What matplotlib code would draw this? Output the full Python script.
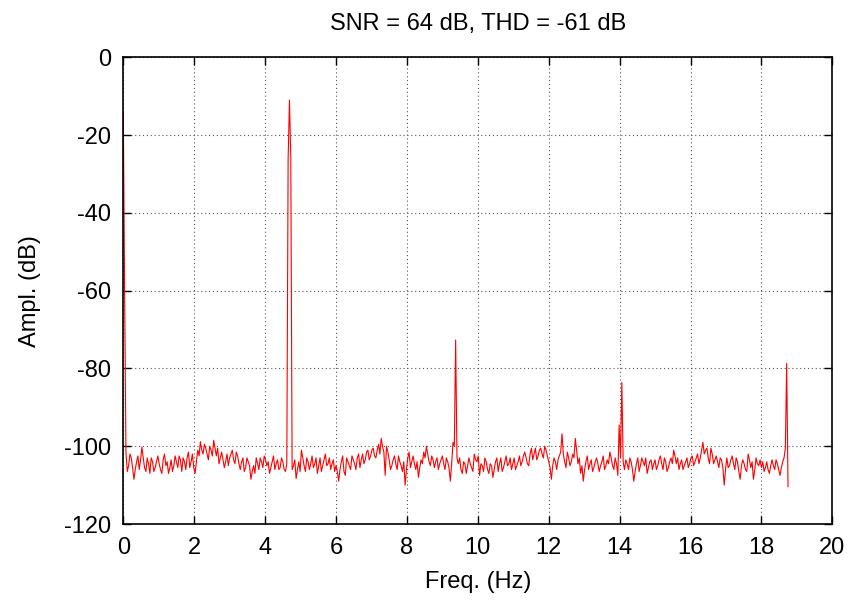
#!/usr/bin/env python3

import numpy as np
import matplotlib
matplotlib.use('Agg')
import matplotlib.pyplot as plt

########################################

# Spectrum, bin width 0.0375 Hz (0 .. 18.75 Hz)
# even bins: 0, 0.075, 0.15, ...   odd bins: 0.0375, 0.1125, ...

bin_hz = 0.0375
even_db = [
    -101.0, -101.5, -105.0, -103.0, -108.5, -104.0, -106.0, -100.2, -105.5, -103.0,
    -107.0, -104.0, -105.5, -102.5, -106.0, -103.5, -105.0, -107.0, -103.5, -105.0,
    -104.0, -102.5, -106.5, -104.0, -103.0, -105.5, -102.0, -107.0, -101.0, -98.8,
    -102.0, -100.5, -103.5, -101.0, -98.5, -102.5, -104.5, -101.5, -105.5, -102.0,
    -103.0, -101.0, -104.5, -102.5, -106.0, -103.0, -105.5, -104.0, -108.5, -105.0,
    -103.0, -106.0, -104.0, -102.5, -105.0, -107.0, -104.0, -106.0, -103.5, -105.5,
    -104.0, -106.5, -104.0, -104.0, -105.0, -108.3, -104.0, -101.0, -105.0, -103.0,
    -106.0, -102.5, -104.5, -107.0, -103.0, -105.0, -102.0, -104.5, -106.0, -103.5,
    -105.0, -109.0, -104.0, -106.5, -103.0, -105.0, -102.5, -104.5, -103.0, -105.5,
    -102.0, -103.5, -101.0, -102.5, -100.5, -103.0, -99.5, -98.0, -101.5, -100.0,
    -103.5, -105.0, -102.5, -106.0, -104.0, -106.5, -110.0, -103.0, -105.5, -102.5,
    -106.0, -108.0, -103.5, -101.5, -100.0, -104.0, -102.5, -105.5, -103.0, -104.5,
    -102.5, -106.0, -104.0, -109.0, -99.0, -104.0, -104.5, -106.0, -104.0, -107.0,
    -103.0, -105.5, -102.0, -104.0, -107.5, -105.0, -103.0, -106.0, -104.5, -108.0,
    -104.0, -106.5, -103.0, -105.5, -102.5, -104.5, -106.0, -103.0, -105.0, -102.5,
    -104.0, -101.5, -104.5, -102.0, -103.5, -100.5, -102.5, -100.5, -103.0, -101.0,
    -104.0, -108.5, -103.0, -106.0, -102.5, -96.8, -104.0, -101.5, -105.0, -102.0,
    -98.0, -104.5, -107.0, -109.0, -104.0, -106.0, -103.5, -105.5, -103.0, -106.5,
    -104.0, -106.0, -103.5, -101.5, -105.0, -103.0, -107.5, -103.0, -104.0, -103.5,
    -106.0, -104.0, -109.0, -104.5, -106.5, -103.0, -105.0, -107.0, -104.0, -106.0,
    -103.5, -105.0, -102.5, -106.0, -104.0, -105.5, -103.0, -101.0, -104.5, -106.0,
    -103.5, -105.0, -103.0, -104.5, -102.5, -104.0, -102.0, -103.0, -99.0, -101.0,
    -103.0, -100.5, -104.5, -102.5, -105.5, -103.5, -110.0, -103.0, -105.0, -102.5,
    -106.0, -104.0, -108.5, -103.5, -106.0, -102.0, -105.5, -108.5, -103.0, -105.0,
    -105.5, -106.5, -104.0, -107.0, -103.5, -106.0, -104.5, -107.5, -104.0, -100.5,
    -110.4,
]
odd_db = [
    -45.0, -106.5, -102.0, -105.5, -106.0, -102.5, -103.5, -103.0, -106.5, -104.5,
    -103.0, -106.5, -104.0, -104.5, -107.0, -102.0, -104.0, -105.5, -106.5, -102.5,
    -105.5, -103.5, -103.0, -106.0, -101.5, -104.0, -105.5, -104.0, -102.5, -101.0,
    -99.5, -102.0, -100.0, -102.5, -100.5, -100.5, -103.0, -103.5, -104.0, -105.0,
    -102.0, -103.5, -101.5, -104.5, -104.0, -106.5, -103.0, -105.0, -106.5, -107.0,
    -104.5, -103.0, -105.5, -103.5, -104.0, -105.5, -102.5, -104.5, -106.0, -103.0,
    -106.0, -104.5, -11.0, -106.0, -103.5, -106.0, -106.5, -103.0, -106.5, -104.0,
    -104.5, -105.5, -103.0, -105.0, -106.5, -103.5, -105.0, -103.0, -104.5, -106.5,
    -106.5, -106.0, -102.5, -107.5, -104.0, -106.0, -103.5, -106.0, -102.0, -103.5,
    -104.5, -101.5, -103.5, -101.0, -102.5, -101.0, -102.0, -100.0, -107.5, -101.5,
    -106.0, -103.5, -104.5, -102.5, -105.0, -104.0, -106.0, -101.5, -104.0, -104.5,
    -104.0, -105.5, -104.5, -103.0, -102.0, -105.0, -103.5, -104.0, -106.0, -103.5,
    -104.5, -103.0, -105.5, -104.5, -100.0, -103.0, -103.0, -107.0, -104.5, -105.0,
    -104.5, -106.5, -103.5, -102.5, -104.5, -106.5, -104.0, -107.0, -105.0, -106.0,
    -103.0, -104.5, -106.5, -104.0, -105.0, -103.0, -104.5, -106.0, -104.0, -105.0,
    -102.5, -103.0, -105.0, -100.5, -102.0, -103.5, -101.0, -102.0, -100.0, -102.5,
    -105.5, -105.0, -104.0, -103.5, -101.5, -102.0, -105.5, -103.0, -104.0, -103.0,
    -101.0, -103.0, -105.0, -106.0, -102.5, -104.5, -106.5, -104.0, -104.5, -105.0,
    -102.5, -105.0, -104.5, -103.0, -106.0, -104.5, -94.5, -83.6, -106.0, -104.5,
    -103.0, -106.0, -106.5, -103.0, -105.0, -104.0, -103.0, -105.5, -103.5, -104.5,
    -106.0, -103.5, -104.5, -103.0, -106.5, -104.0, -104.5, -102.5, -103.0, -104.5,
    -106.0, -104.0, -105.5, -103.0, -105.0, -103.0, -104.5, -101.0, -102.0, -100.5,
    -104.5, -102.0, -103.5, -104.0, -103.0, -105.5, -106.0, -105.5, -103.5, -104.5,
    -103.0, -106.5, -105.0, -104.5, -106.5, -103.5, -104.0, -106.0, -104.5, -103.5,
    -104.0, -105.5, -106.0, -105.0, -105.0, -103.5, -106.0, -105.5, -103.0, -78.7,
]

# DC, the tone at 4.69 Hz and its harmonics (these bins replace the floor)
peak_hz = [0.0, 0.0375,
           4.6125, 4.65, 4.6875, 4.725, 4.7625,
           9.3375, 9.375, 9.4125,
           13.9875, 14.025, 14.0625, 14.1,
           18.7125]
peak_db = [-14.2, -60.0,
           -104.5, -26.0, -11.0, -26.0, -106.0,
           -100.0, -72.7, -103.0,
           -94.5, -103.0, -83.6, -104.0,
           -78.7]

title = 'SNR = 64 dB, THD = -61 dB'

########################################

ampl = np.empty(len(even_db) + len(odd_db))
ampl[0::2] = even_db
ampl[1::2] = odd_db
for f, v in zip(peak_hz, peak_db):
    ampl[int(round(f / bin_hz))] = v
freq = np.arange(len(ampl)) * bin_hz

########################################

plt.rcParams['font.family'] = ['Liberation Sans', 'DejaVu Sans']
plt.rcParams['font.size'] = 17
plt.rcParams['axes.unicode_minus'] = False

fig = plt.figure(figsize=(8.52, 6.03), dpi=100)
ax = fig.add_axes([0.1447, 0.131, 0.8322, 0.774])

ax.plot(freq, ampl, color='#ff0000', linewidth=0.8)

ax.set_xlim(0, 20)
ax.set_ylim(-120, 0)
ax.set_xticks(np.arange(0, 21, 2))
ax.set_yticks(np.arange(-120, 1, 20))

ax.grid(True, color='#555555', linestyle=(0, (1, 2.5)), linewidth=0.8)
ax.tick_params(direction='in', length=6, width=1, top=True, right=True, pad=9)
for s in ax.spines.values():
    s.set_linewidth(1.2)

ax.set_title(title, fontsize=17, pad=20)
ax.set_xlabel('Freq. (Hz)', labelpad=9)
ax.set_ylabel('Ampl. (dB)', labelpad=16)

fig.savefig('out.png', dpi=100)
